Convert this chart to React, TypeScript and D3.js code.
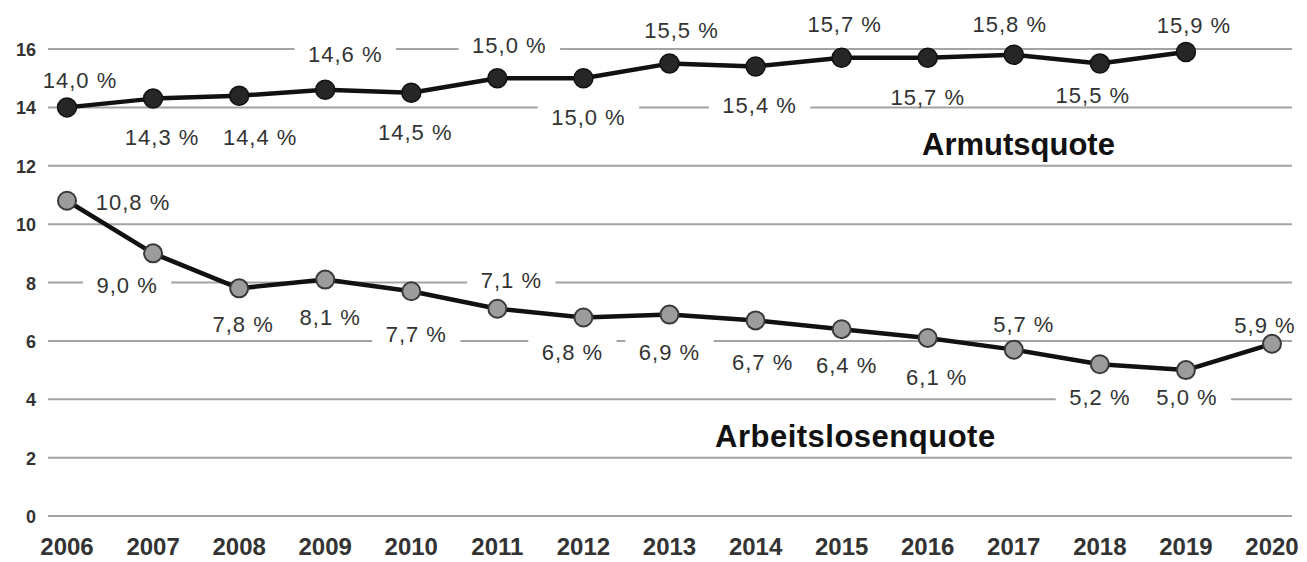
import { scaleLinear, line } from "d3";

const years = [2006, 2007, 2008, 2009, 2010, 2011, 2012, 2013, 2014, 2015, 2016, 2017, 2018, 2019, 2020];
const armutsquote = [14.0, 14.3, 14.4, 14.6, 14.5, 15.0, 15.0, 15.5, 15.4, 15.7, 15.7, 15.8, 15.5, 15.9];
const arbeitslosenquote = [10.8, 9.0, 7.8, 8.1, 7.7, 7.1, 6.8, 6.9, 6.7, 6.4, 6.1, 5.7, 5.2, 5.0, 5.9];
const yTicks = [0, 2, 4, 6, 8, 10, 12, 14, 16];

// where each value label sits relative to its point: [dx, dy to baseline]
const armutLabelOffsets = [
  [13, -19], [9, 46], [21, 49], [20, -28], [4, 47], [12, -25], [5, 47],
  [12, -26], [4, 46], [3, -26], [0, 47], [-4, -23], [-7, 39], [8, -19],
];
const arbeitLabelOffsets = [
  [66, 9], [-26, 40], [4, 44], [5, 45], [5, 51], [14, -21], [-11, 42],
  [0, 45], [7, 50], [5, 44], [9, 47], [10, -18], [0, 41], [1, 35], [-7, -11],
];

const W = 1307;
const H = 562;
const FONT = "'Liberation Sans', Arial, Helvetica, sans-serif";
const LABEL_SIZE = 22;
const LABEL_SPACING = 1;

const x = scaleLinear().domain([2006, 2020]).range([67, 1272]);
const y = scaleLinear().domain([0, 16]).range([516, 49]);

const fmt = (v: number) => v.toFixed(1).replace(".", ",") + " %";

let ctx: CanvasRenderingContext2D | null = null;
const textWidth = (s: string) => {
  if (!ctx) ctx = document.createElement("canvas").getContext("2d");
  if (!ctx) return s.length * 12;
  ctx.font = `${LABEL_SIZE}px ${FONT}`;
  return ctx.measureText(s).width + LABEL_SPACING * (s.length - 1);
};

type Lbl = { text: string; cx: number; by: number };

const makeLabels = (vals: number[], offs: number[][]): Lbl[] =>
  vals.map((v, i) => ({
    text: fmt(v),
    cx: x(years[i]) + offs[i][0],
    by: y(v) + offs[i][1],
  }));

const App = () => {
  const armutPts = armutsquote.map((v, i) => [x(years[i]), y(v)] as [number, number]);
  const arbeitPts = arbeitslosenquote.map((v, i) => [x(years[i]), y(v)] as [number, number]);
  const path = line();

  const labels = [
    ...makeLabels(armutsquote, armutLabelOffsets),
    ...makeLabels(arbeitslosenquote, arbeitLabelOffsets),
  ];

  return (
    <svg
      width={W}
      height={H}
      style={{ position: "absolute", left: 0, top: 0, background: "#fff" }}
      fontFamily={FONT}
    >
      <rect width={W} height={H} fill="#fff" />
      {/* grid */}
      {yTicks.map((t) => (
        <g key={t}>
          <line x1={48} x2={1292} y1={y(t)} y2={y(t)} stroke="#a3a3a3" strokeWidth={2} />
          <text
            x={36}
            y={y(t) + 7}
            textAnchor="end"
            fontSize={18}
            fontWeight="bold"
            fill="#333"
          >
            {t}
          </text>
        </g>
      ))}

      {/* label backgrounds cut the grid lines */}
      {labels.map((l, i) => {
        const w = textWidth(l.text);
        return (
          <rect
            key={"bg" + i}
            x={l.cx - w / 2 - 14}
            y={l.by - 20}
            width={w + 28}
            height={21}
            fill="#fff"
          />
        );
      })}

      <path d={path(armutPts) ?? ""} fill="none" stroke="#111" strokeWidth={4.5} strokeLinejoin="round" />
      <path d={path(arbeitPts) ?? ""} fill="none" stroke="#111" strokeWidth={4.5} strokeLinejoin="round" />

      {armutPts.map((p, i) => (
        <circle key={"a" + i} cx={p[0]} cy={p[1]} r={9.5} fill="#262626" stroke="#111" strokeWidth={1.5} />
      ))}
      {arbeitPts.map((p, i) => (
        <circle key={"b" + i} cx={p[0]} cy={p[1]} r={9} fill="#9c9c9c" stroke="#3a3a3a" strokeWidth={2} />
      ))}

      {labels.map((l, i) => (
        <text
          key={"t" + i}
          x={l.cx}
          y={l.by}
          textAnchor="middle"
          fontSize={LABEL_SIZE}
          letterSpacing={LABEL_SPACING}
          fill="#333"
        >
          {l.text}
        </text>
      ))}

      <text x={922} y={155} fontSize={31} fontWeight="bold" fill="#111">
        Armutsquote
      </text>
      <text x={715} y={447} fontSize={31} fontWeight="bold" letterSpacing={0.5} fill="#111">
        Arbeitslosenquote
      </text>

      {years.map((yr) => (
        <text
          key={yr}
          x={x(yr)}
          y={555}
          textAnchor="middle"
          fontSize={24}
          fontWeight="bold"
          fill="#333"
        >
          {yr}
        </text>
      ))}
    </svg>
  );
};

export default App;
